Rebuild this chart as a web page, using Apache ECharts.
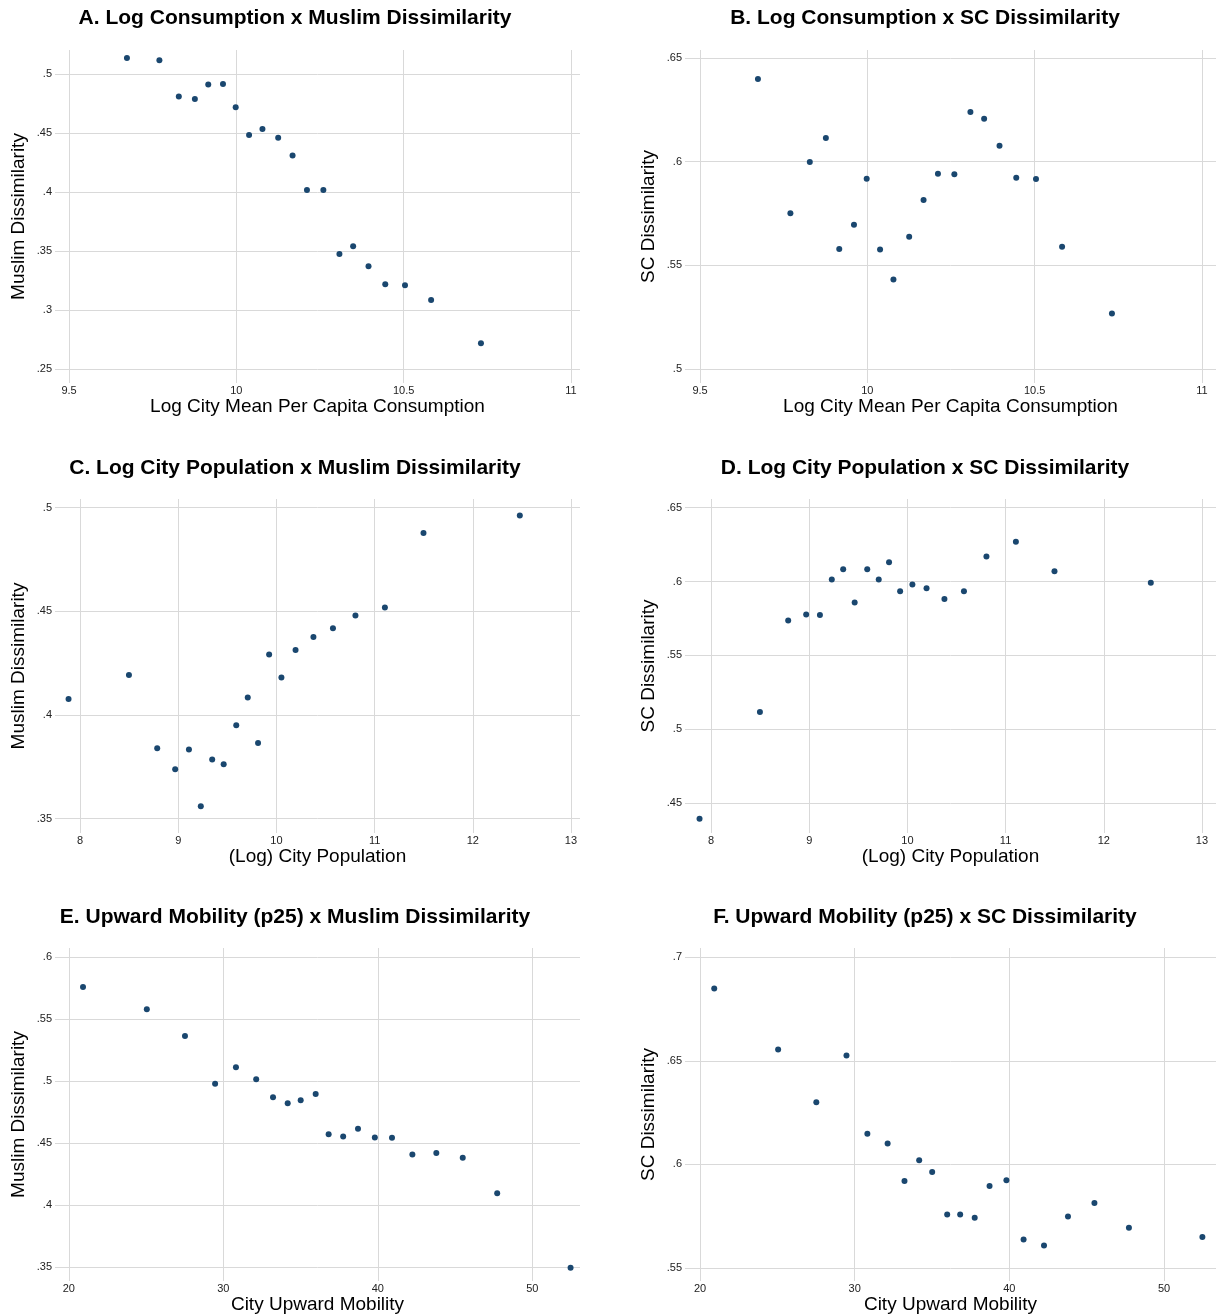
<!DOCTYPE html>
<html>
<head>
<meta charset="utf-8">
<script src="https://cdn.jsdelivr.net/npm/echarts@6/dist/echarts.min.js"></script>
<style>
html,body{margin:0;padding:0;background:#fff;}
#chart{width:1216px;height:1316px;}
</style>
</head>
<body>
<div id="chart"></div>
<script>
// ---- data ----
const consumption = [9.673, 9.770, 9.828, 9.876, 9.916, 9.960, 9.998, 10.038, 10.078, 10.125, 10.168, 10.211, 10.260, 10.308, 10.349, 10.395, 10.445, 10.504, 10.582, 10.731];
const muslimByConsumption = [0.5136, 0.5116, 0.4808, 0.4788, 0.4910, 0.4915, 0.4718, 0.4483, 0.4534, 0.4460, 0.4308, 0.4017, 0.4017, 0.3475, 0.3540, 0.3370, 0.3218, 0.3209, 0.3085, 0.2718];
const scByConsumption = [0.6399, 0.5751, 0.5998, 0.6114, 0.5579, 0.5696, 0.5918, 0.5576, 0.5432, 0.5638, 0.5815, 0.5942, 0.5939, 0.6240, 0.6207, 0.6077, 0.5923, 0.5916, 0.5590, 0.5267];

const population = [7.883, 8.498, 8.786, 8.969, 9.109, 9.230, 9.346, 9.463, 9.591, 9.708, 9.813, 9.926, 10.051, 10.195, 10.377, 10.576, 10.805, 11.105, 11.498, 12.479];
const muslimByPopulation = [0.4077, 0.4193, 0.3839, 0.3738, 0.3834, 0.3560, 0.3785, 0.3762, 0.3950, 0.4084, 0.3865, 0.4292, 0.4181, 0.4313, 0.4376, 0.4418, 0.4479, 0.4518, 0.4877, 0.4961];
const scByPopulation = [0.4394, 0.5117, 0.5736, 0.5776, 0.5774, 0.6014, 0.6084, 0.5858, 0.6084, 0.6014, 0.6131, 0.5935, 0.5980, 0.5955, 0.5882, 0.5935, 0.6169, 0.6269, 0.6070, 0.5991];

const mobility = [20.92, 25.05, 27.52, 29.47, 30.82, 32.13, 33.22, 34.17, 35.01, 35.98, 36.82, 37.76, 38.72, 39.81, 40.92, 42.24, 43.79, 45.50, 47.73, 52.48];
const muslimByMobility = [0.5761, 0.5581, 0.5366, 0.4981, 0.5113, 0.5016, 0.4871, 0.4823, 0.4847, 0.4898, 0.4573, 0.4556, 0.4618, 0.4548, 0.4546, 0.4409, 0.4422, 0.4384, 0.4097, 0.3497];
const scByMobility = [0.6849, 0.6555, 0.6300, 0.6526, 0.6147, 0.6100, 0.5919, 0.6019, 0.5963, 0.5757, 0.5757, 0.5742, 0.5895, 0.5923, 0.5636, 0.5608, 0.5748, 0.5813, 0.5693, 0.5648];

// ---- tick labels ----
const xTicksConsumption = [9.5, 10, 10.5, 11];
const xTicksPopulation = [8, 9, 10, 11, 12, 13];
const xTicksMobility = [20, 30, 40, 50];
const yTicksA = [0.25, 0.3, 0.35, 0.4, 0.45, 0.5];
const yTicksB = [0.5, 0.55, 0.6, 0.65];
const yTicksC = [0.35, 0.4, 0.45, 0.5];
const yTicksD = [0.45, 0.5, 0.55, 0.6, 0.65];
const yTicksE = [0.35, 0.4, 0.45, 0.5, 0.55, 0.6];
const yTicksF = [0.55, 0.6, 0.65, 0.7];

const titles = [
  'A. Log Consumption x Muslim Dissimilarity',
  'B. Log Consumption x SC Dissimilarity',
  'C. Log City Population x Muslim Dissimilarity',
  'D. Log City Population x SC Dissimilarity',
  'E. Upward Mobility (p25) x Muslim Dissimilarity',
  'F. Upward Mobility (p25) x SC Dissimilarity'
];
const xNames = ['Log City Mean Per Capita Consumption', '(Log) City Population', 'City Upward Mobility'];
const yNames = ['Muslim Dissimilarity', 'SC Dissimilarity'];

// ---- layout ----
const FONT = '"Liberation Sans", Arial, Helvetica, sans-serif';
const panels = [
  {x: consumption, y: muslimByConsumption, xt: xTicksConsumption, yt: yTicksA, xn: 0, yn: 0,
   g: {left: 55, top: 50, width: 525, height: 333}, xr: [9.458, 11.027], yr: [0.2381, 0.5203], tx: 295, ty: 17},
  {x: consumption, y: scByConsumption, xt: xTicksConsumption, yt: yTicksB, xn: 0, yn: 1,
   g: {left: 685, top: 50, width: 531, height: 333}, xr: [9.455, 11.042], yr: [0.4932, 0.6539], tx: 925, ty: 17},
  {x: population, y: muslimByPopulation, xt: xTicksPopulation, yt: yTicksC, xn: 1, yn: 0,
   g: {left: 55, top: 499, width: 525, height: 334}, xr: [7.745, 13.092], yr: [0.3431, 0.5041], tx: 295, ty: 467},
  {x: population, y: scByPopulation, xt: xTicksPopulation, yt: yTicksD, xn: 1, yn: 1,
   g: {left: 685, top: 499, width: 531, height: 334}, xr: [7.735, 13.143], yr: [0.4297, 0.6559], tx: 925, ty: 467},
  {x: mobility, y: muslimByMobility, xt: xTicksMobility, yt: yTicksE, xn: 2, yn: 0,
   g: {left: 55, top: 948, width: 525, height: 333}, xr: [19.107, 53.09], yr: [0.339, 0.6075], tx: 295, ty: 916},
  {x: mobility, y: scByMobility, xt: xTicksMobility, yt: yTicksF, xn: 2, yn: 1,
   g: {left: 685, top: 948, width: 531, height: 333}, xr: [19.03, 53.36], yr: [0.5436, 0.7045], tx: 925, ty: 916}
];

function fmtY(v) { return String(+v.toFixed(4)).replace(/^0\./, '.'); }
function fmtX(v) { return String(+(+v).toFixed(4)); }

const grid = [], xAxis = [], yAxis = [], series = [], graphic = [];
panels.forEach((p, i) => {
  grid.push(Object.assign({containLabel: false}, p.g));
  xAxis.push({
    type: 'value', gridIndex: i, min: p.xr[0], max: p.xr[1],
    name: xNames[p.xn], nameLocation: 'middle', nameGap: 12,
    nameTextStyle: {fontFamily: FONT, fontSize: 19, color: '#000', verticalAlign: 'top'},
    axisLine: {show: false}, axisTick: {show: false, customValues: p.xt},
    axisLabel: {customValues: p.xt, formatter: fmtX, margin: 2, fontFamily: FONT, fontSize: 11, color: '#222', showMinLabel: true, showMaxLabel: true},
    splitLine: {show: true, lineStyle: {color: '#d9d9d9', width: 1}}
  });
  yAxis.push({
    type: 'value', gridIndex: i, min: p.yr[0], max: p.yr[1],
    name: yNames[p.yn], nameLocation: 'middle', nameGap: 27,
    nameTextStyle: {fontFamily: FONT, fontSize: 19, color: '#000'},
    axisLine: {show: false}, axisTick: {show: false, customValues: p.yt},
    axisLabel: {customValues: p.yt, formatter: fmtY, margin: 3, fontFamily: FONT, fontSize: 11, color: '#222'},
    splitLine: {show: true, lineStyle: {color: '#d9d9d9', width: 1}}
  });
  series.push({
    type: 'scatter', xAxisIndex: i, yAxisIndex: i,
    data: p.x.map((v, k) => [v, p.y[k]]),
    symbol: 'circle', symbolSize: 6,
    itemStyle: {color: '#1a476f', opacity: 1},
    silent: true
  });
  graphic.push({
    type: 'text', x: p.tx, y: p.ty + 1,
    style: {text: titles[i], align: 'center', verticalAlign: 'middle',
            font: 'bold 21px ' + FONT, fill: '#000'}
  });
});

const chart = echarts.init(document.getElementById('chart'), null, {renderer: 'canvas'});
chart.setOption({
  backgroundColor: '#fff',
  animation: false,
  grid, xAxis, yAxis, series, graphic
});
</script>
</body>
</html>
